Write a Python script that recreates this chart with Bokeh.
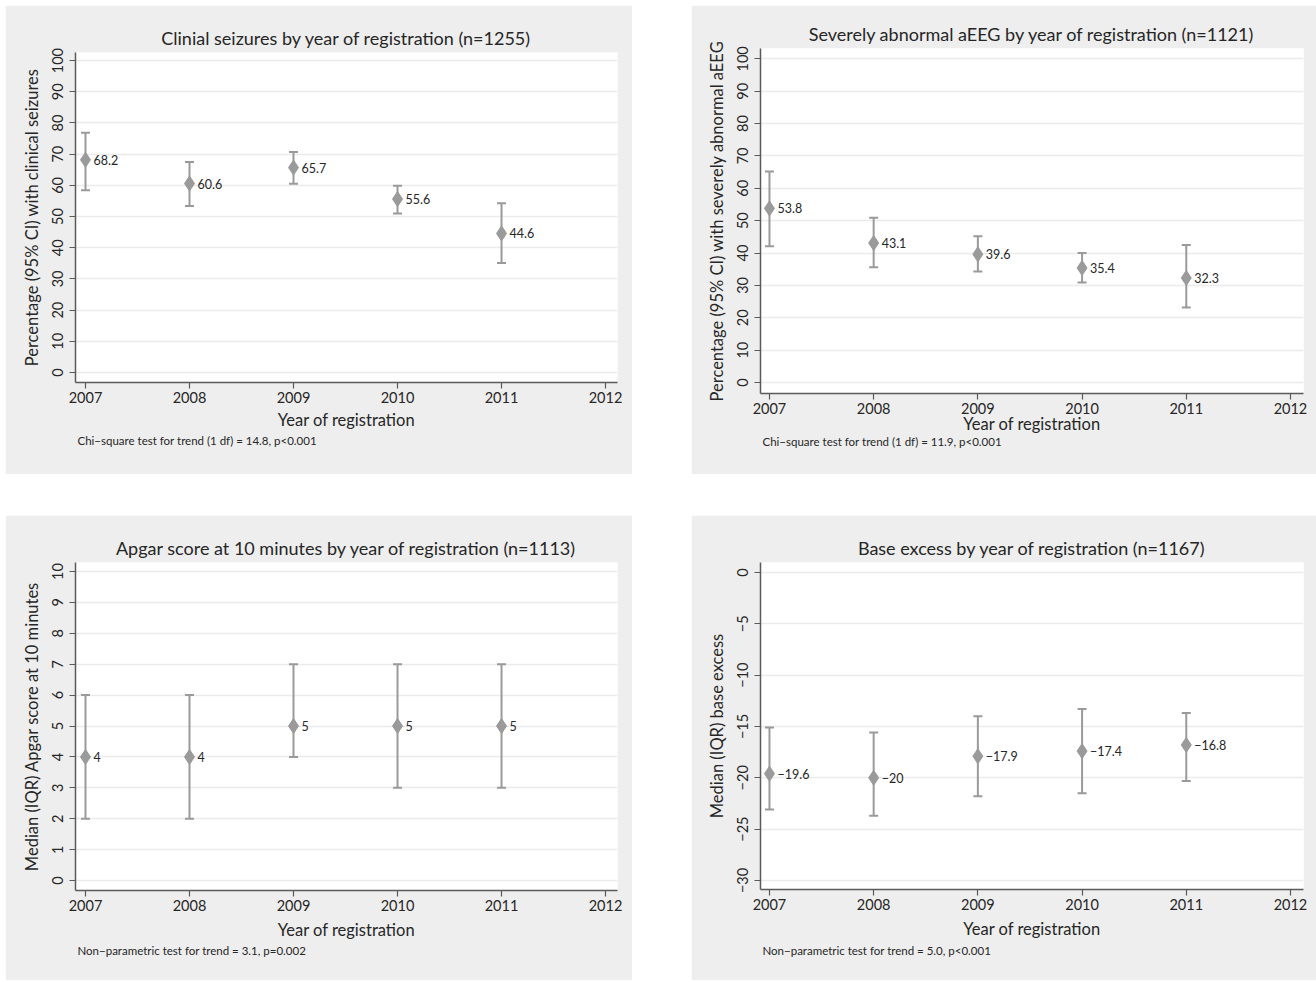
from bokeh.plotting import figure
from bokeh.models import (ColumnDataSource, Whisker, TeeHead, LabelSet, Title,
                          FixedTicker, CustomJSTickFormatter, Range1d, Spacer)
from bokeh.core.properties import value
from bokeh.layouts import row, column
from bokeh.embed import file_html
from bokeh.resources import INLINE

years = [2007, 2008, 2009, 2010, 2011]
year_ticks = [2007, 2008, 2009, 2010, 2011, 2012]

seiz_pct = [68.2, 60.6, 65.7, 55.6, 44.6]
seiz_lo = [58.4, 53.4, 60.5, 51.0, 35.1]
seiz_hi = [76.9, 67.5, 70.7, 59.9, 54.3]

aeeg_pct = [53.8, 43.1, 39.6, 35.4, 32.3]
aeeg_lo = [42.1, 35.6, 34.3, 30.9, 23.2]
aeeg_hi = [65.2, 50.9, 45.2, 40.0, 42.5]

apgar_med = [4, 4, 5, 5, 5]
apgar_q1 = [2, 2, 4, 3, 3]
apgar_q3 = [6, 6, 7, 7, 7]

be_med = [-19.6, -20, -17.9, -17.4, -16.8]
be_q1 = [-23.1, -23.7, -21.8, -21.5, -20.3]
be_q3 = [-15.1, -15.6, -14.0, -13.3, -13.7]

FONT = "Lato"
PANEL_BG = "#eeeeee"
MARK = "#9a9a9a"
TXT = "#262626"


def fmt(v):
    s = ("%g" % v)
    return s.replace("-", "\u2212")


def panel(title, ylabel, note, y, lo, hi, yrange, yticks, xrange,
          width, height, mb, xlabel_standoff, note_standoff):
    left, right, top, bottom = mb
    p = figure(width=width, height=height, output_backend="svg",
               toolbar_location=None, x_range=Range1d(*xrange),
               y_range=Range1d(*yrange),
               min_border_left=left, min_border_right=right,
               min_border_top=top, min_border_bottom=bottom,
               background_fill_color="white", border_fill_color=PANEL_BG,
               outline_line_color=None)
    p.frame_align = False
    p.title.text = title
    p.title.text_font = FONT
    p.title.text_font_size = "18px"
    p.title.text_font_style = "normal"
    p.title.text_color = TXT
    p.title.align = "center"
    p.title.standoff = 7

    p.xaxis.ticker = FixedTicker(ticks=year_ticks)
    p.yaxis.ticker = FixedTicker(ticks=yticks)
    p.yaxis.formatter = CustomJSTickFormatter(
        code="return tick < 0 ? '\u2212' + Math.abs(tick) : tick.toString();")
    for ax in (p.xaxis[0], p.yaxis[0]):
        ax.axis_line_color = "#5a5a5a"
        ax.axis_line_width = 1.5
        ax.major_tick_line_color = "#5a5a5a"
        ax.major_tick_line_width = 1.2
        ax.major_tick_out = 6
        ax.major_tick_in = 0
        ax.minor_tick_line_color = None
        ax.major_label_text_font = FONT
        ax.major_label_text_font_size = "14.5px"
        ax.major_label_text_color = TXT
        ax.axis_label_text_font = FONT
        ax.axis_label_text_font_size = "16.5px"
        ax.axis_label_text_font_style = "normal"
        ax.axis_label_text_color = TXT
    p.xaxis.axis_label = "Year of registration"
    p.xaxis.major_label_standoff = 3
    p.xaxis.axis_label_standoff = xlabel_standoff
    p.yaxis.axis_label = ylabel
    p.yaxis.major_label_orientation = "vertical"
    p.yaxis.major_label_standoff = 6
    p.yaxis.axis_label_standoff = 8

    p.xgrid.grid_line_color = None
    p.ygrid.grid_line_color = "#ebebeb"
    p.ygrid.grid_line_width = 1.5

    src = ColumnDataSource(dict(x=years, y=y, lo=lo, hi=hi,
                                lab=[fmt(v) for v in y]))
    w = Whisker(base="x", lower="lo", upper="hi", source=src,
                line_color=MARK, line_width=2,
                upper_head=TeeHead(size=9, line_color=MARK, line_width=2),
                lower_head=TeeHead(size=9, line_color=MARK, line_width=2))
    p.add_layout(w)
    p.scatter("x", "y", source=src, marker="diamond", size=15,
              fill_color=MARK, line_color=MARK)
    p.add_layout(LabelSet(x="x", y="y", text="lab", source=src, x_offset=8,
                          y_offset=0, text_baseline="middle",
                          text_font=value(FONT), text_font_size=value("12.5px"),
                          text_color=TXT))

    nt = Title(text=note, align="left", text_font=FONT,
               text_font_size="11.5px", text_font_style="normal",
               text_color=TXT, standoff=note_standoff, offset=2)
    p.add_layout(nt, "below")
    return p


xr_left = (2006.904, 2012.115)
xr_right = (2006.914, 2012.125)

p1 = panel("Clinial seizures by year of registration (n=1255)",
           "Percentage (95% CI) with clinical seizures",
           "Chi\u2212square test for trend (1 df) = 14.8, p<0.001",
           seiz_pct, seiz_lo, seiz_hi, (-3.2, 102.6), list(range(0, 101, 10)),
           xr_left, 627, 469, (70, 15, 47, 92), 4, -1)

p2 = panel("Severely abnormal aEEG by year of registration (n=1121)",
           "Percentage (95% CI) with severely abnormal aEEG",
           "Chi\u2212square test for trend (1 df) = 11.9, p<0.001",
           aeeg_pct, aeeg_lo, aeeg_hi, (-3.4, 103.2), list(range(0, 101, 10)),
           xr_right, 625, 469, (69, 13, 43, 81), -3, -7)

p3 = panel("Apgar score at 10 minutes by year of registration (n=1113)",
           "Median (IQR) Apgar score at 10 minutes",
           "Non\u2212parametric test for trend = 3.1, p=0.002",
           apgar_med, apgar_q1, apgar_q3, (-0.32, 10.29), list(range(0, 11)),
           xr_left, 627, 465, (70, 15, 47, 90), 6, -1)

p4 = panel("Base excess by year of registration (n=1167)",
           "Median (IQR) base excess",
           "Non\u2212parametric test for trend = 5.0, p<0.001",
           be_med, be_q1, be_q3, (-30.88, 0.97), list(range(-30, 1, 5)),
           xr_right, 625, 465, (69, 13, 47, 91), 6, 0)

grid = column(row(p1, p2, spacing=59), row(p3, p4, spacing=59), spacing=41)
layout = column(Spacer(height=5, width=10),
                row(Spacer(width=5, height=10), grid))
open("out.html", "w").write(file_html(layout, INLINE))
